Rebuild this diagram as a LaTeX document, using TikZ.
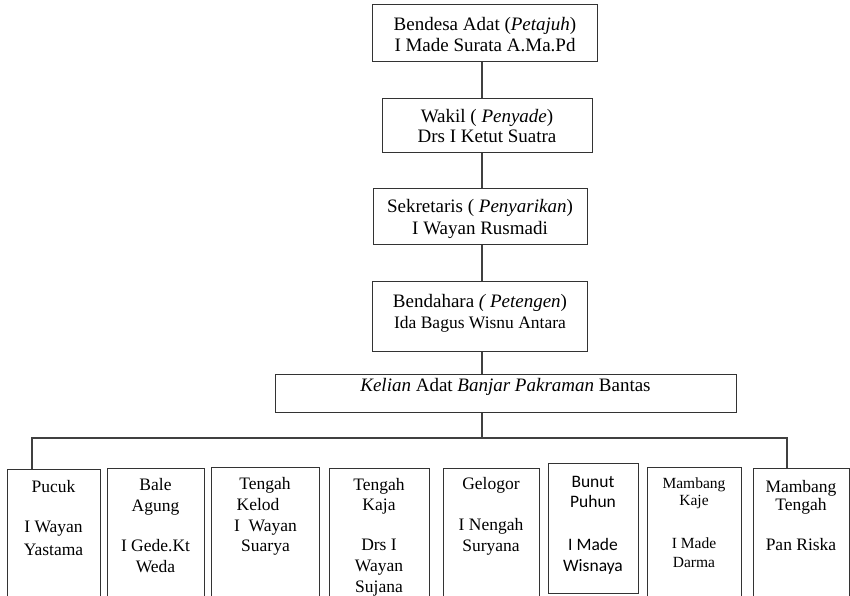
\documentclass[tikz,border=0pt]{standalone}
\usepackage{fontspec}
\setmainfont{Liberation Serif}
\newfontfamily\carlito{Carlito}
\tikzset{
  box/.style={draw=black!80, line width=1.3pt, rectangle, inner sep=0pt, anchor=north west},
  conn/.style={draw=black!75, line width=1.1pt},
  big/.style={anchor=base, inner sep=0pt, font=\fontsize{19}{21}\selectfont},
  mid/.style={anchor=base, inner sep=0pt, font=\fontsize{17.5}{20}\selectfont},
  sml/.style={anchor=base, inner sep=0pt, font=\fontsize{15.5}{18}\selectfont},
  sans/.style={anchor=base, inner sep=0pt, font=\carlito\fontsize{17.5}{20}\selectfont},
}
\begin{document}
\begin{tikzpicture}[x=1pt,y=-1pt]
\useasboundingbox (0,0) rectangle (850,596);
\fill[white] (0,0) rectangle (850,596);
\clip (0,0) rectangle (850,596);
% top chain
\node[box, minimum width=225pt, minimum height=57pt] (b1) at (372,4) {};
\node[box, minimum width=210pt, minimum height=54pt] (b2) at (382,98) {};
\node[box, minimum width=214pt, minimum height=56pt] (b3) at (373,188) {};
\node[box, minimum width=215pt, minimum height=70pt] (b4) at (372,281) {};
\node[box, minimum width=461pt, minimum height=38pt] (kel) at (275,374) {};
\coordinate (spine) at (482,0);
\node[big] (t1a) at (485,31) {Bendesa Adat (\textit{Petajuh})};
\node[big] (t1b) at (485,52) {I Made Surata A.Ma.Pd};
\node[big] (t2a) at (487,123) {Wakil ( \textit{Penyade})};
\node[big] (t2b) at (487,143) {Drs I Ketut Suatra};
\node[big] (t3a) at (480,212) {Sekretaris ( \textit{Penyarikan})};
\node[big] (t3b) at (480,234) {I Wayan Rusmadi};
\node[big] (t4a) at (480,307) {Bendahara \textit{( Petengen})};
\node[mid] (t4b) at (480,328) {Ida Bagus Wisnu Antara};
\node[big] (tk) at (505.5,391) {\textit{Kelian} Adat \textit{Banjar Pakraman} Bantas};
\draw[conn] (spine |- b1.south) -- (spine |- b2.north);
\draw[conn] (spine |- b2.south) -- (spine |- b3.north);
\draw[conn] (spine |- b3.south) -- (spine |- b4.north);
\draw[conn] (spine |- b4.south) -- (spine |- kel.north);
% bottom row boxes
\node[box, minimum width=93pt, minimum height=160pt] (p1) at (7,469) {};
\node[box, minimum width=97pt, minimum height=160pt] (p2) at (107,468) {};
\node[box, minimum width=108pt, minimum height=160pt] (p3) at (211,467) {};
\node[box, minimum width=100pt, minimum height=160pt] (p4) at (329,468) {};
\node[box, minimum width=96pt, minimum height=160pt] (p5) at (443,468) {};
\node[box, minimum width=90pt, minimum height=130pt] (p6) at (548,463) {};
\node[box, minimum width=94pt, minimum height=160pt] (p7) at (647,467) {};
\node[box, minimum width=96pt, minimum height=160pt] (p8) at (753,468) {};
% bar
\coordinate (barL) at (32,438);
\coordinate (barR) at (787,438);
\draw[conn] (spine |- kel.south) -- (spine |- barL);
\draw[conn] (p1.north -| barL) -- (barL) -- (barR) -- (p8.north -| barR);
% bottom texts
\node[mid] (p1a) at (53.5,492) {Pucuk};
\node[mid] (p1b) at (53.5,532) {I Wayan};
\node[mid] (p1c) at (53.5,555) {Yastama};
\node[mid] (p2a) at (155.5,490) {Bale};
\node[mid] (p2b) at (155.5,511) {Agung};
\node[mid] (p2c) at (155.5,551) {I Gede.Kt};
\node[mid] (p2d) at (155.5,572) {Weda};
\node[mid] (p3a) at (265,489) {Tengah};
\node[mid] (p3b) at (258,510) {Kelod};
\node[mid] (p3c) at (265.5,531) {I\ \ Wayan};
\node[mid] (p3d) at (265.5,551) {Suarya};
\node[mid] (p4a) at (379,490) {Tengah};
\node[mid] (p4b) at (379,510) {Kaja};
\node[mid] (p4c) at (379,550) {Drs I};
\node[mid] (p4d) at (379,571) {Wayan};
\node[mid] (p4e) at (379,592) {Sujana};
\node[mid] (p5a) at (491,489) {Gelogor};
\node[mid] (p5b) at (491,530) {I Nengah};
\node[mid] (p5c) at (491,551) {Suryana};
\node[sans] (p6a) at (593,487) {Bunut};
\node[sans] (p6b) at (593,507) {Puhun};
\node[sans] (p6c) at (593,550) {I Made};
\node[sans] (p6d) at (593,571) {Wisnaya};
\node[sml] (p7a) at (694,488) {Mambang};
\node[sml] (p7b) at (694,505) {Kaje};
\node[sml] (p7c) at (694,548) {I Made};
\node[sml] (p7d) at (694,567) {Darma};
\node[mid] (p8a) at (801,492) {Mambang};
\node[mid] (p8b) at (801,510) {Tengah};
\node[mid] (p8c) at (801,550) {Pan Riska};
\end{tikzpicture}
\end{document}
